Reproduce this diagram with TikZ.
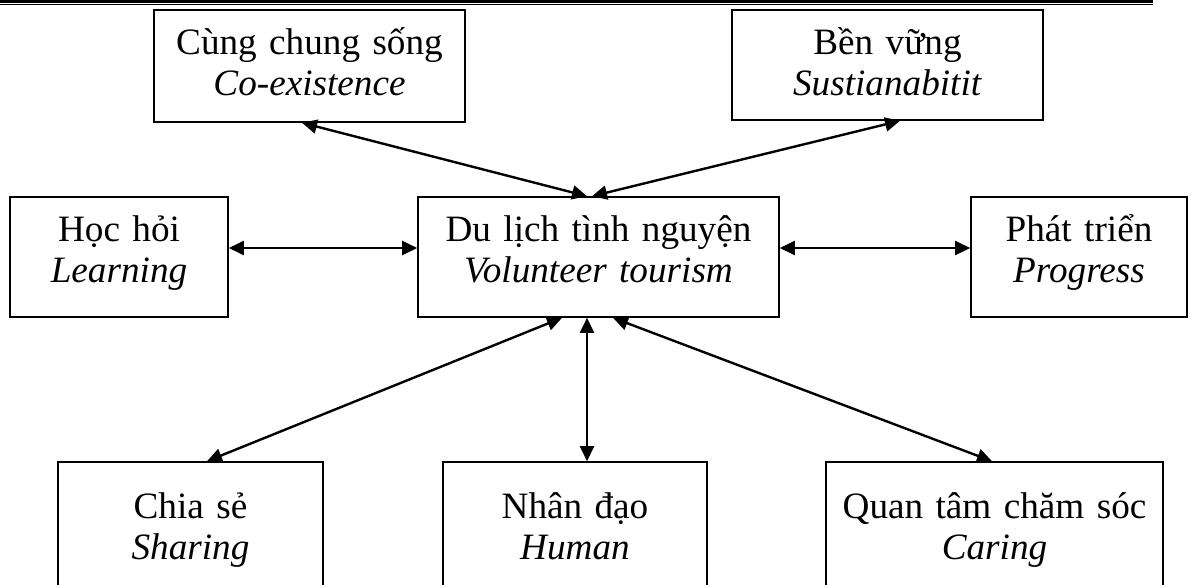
\documentclass[tikz,border=0pt]{standalone}
\usepackage{fontspec}
\setmainfont{Liberation Serif}
\usetikzlibrary{arrows.meta}

\begin{document}
\begin{tikzpicture}
      [
        x=0.5pt, y=-0.5pt,
        box/.style={draw, line width=0.8pt, inner sep=0pt},
        txt/.style={anchor=base, align=center, text width=8cm, inner sep=0pt,
          font=\fontsize{18.6pt}{20.5pt}\selectfont},
        link/.style={line width=1.2pt, <->, >={Triangle[length=7.5pt,width=7pt]}}
      ]
      \clip (0,0) rectangle (1192,584);
      % header rule
      \draw [line width=1.65pt] (0,1.65) -- (1153,1.65);
      \draw [line width=0.55pt] (0,4.8) -- (1153,4.8);
      % top boxes
      \node [box, minimum width=155.5pt, minimum height=56pt] (coex) at (309.5,66) {};
      \node [box, minimum width=155.5pt, minimum height=55pt] (sust) at (887.5,65) {};
      % middle row
      \node [box, minimum width=109pt, minimum height=60pt] (hoc) at (119,257) {};
      \node [box, minimum width=180.5pt, minimum height=60pt] (vt) at (598.5,257) {};
      \node [box, minimum width=108pt, minimum height=60pt] (prog) at (1079,257) {};
      % bottom boxes (run off the page)
      \node [box, minimum width=132.5pt, minimum height=75pt] (chia) at (190.5,537) {};
      \node [box, minimum width=132pt, minimum height=75pt] (nhan) at (575,537) {};
      \node [box, minimum width=168.5pt, minimum height=75pt] (quan) at (994.5,537) {};
      % labels
      \node [txt] (coex-t) at ([yshift=-22.5pt]coex.north) {Cùng chung sống\\\textit{Co-existence}};
      \node [txt] (sust-t) at ([yshift=-22.5pt]sust.north) {Bền vững\\\textit{Sustianabitit}};
      \node [txt] (hoc-t) at ([yshift=-22.5pt]hoc.north) {Học hỏi\\\textit{Learning}};
      \node [txt] (vt-t) at ([yshift=-22.5pt]vt.north) {Du lịch tình nguyện\\\textit{Volunteer tourism}};
      \node [txt] (prog-t) at ([yshift=-22.5pt]prog.north) {Phát triển\\\textit{Progress}};
      \node [txt] (chia-t) at ([yshift=-28.5pt]chia.north) {Chia sẻ\\\textit{Sharing}};
      \node [txt] (nhan-t) at ([yshift=-28.5pt]nhan.north) {Nhân đạo\\\textit{Human}};
      \node [txt] (quan-t) at ([yshift=-28.5pt]quan.north) {Quan tâm chăm sóc\\\textit{Caring}};
      % double arrows
      \draw [link] ([xshift=-3.75pt]coex.south) -- ([xshift=-5.75pt]vt.north);
      \draw [link] ([xshift=6.25pt]sust.south) -- ([xshift=-3.25pt]vt.north);
      \draw [link] ([yshift=4.5pt]hoc.east) -- ([yshift=4.5pt]vt.west);
      \draw [link] ([yshift=4.5pt]vt.east) -- ([yshift=4.5pt]prog.west);
      \draw [link] ([xshift=-18.25pt]vt.south) -- ([xshift=8.25pt]chia.north);
      \draw [link] ([xshift=-5.75pt]vt.south) -- ([xshift=6pt]nhan.north);
      \draw [link] ([xshift=7.25pt]vt.south) -- ([xshift=-1.25pt]quan.north);
\end{tikzpicture}
\end{document}
